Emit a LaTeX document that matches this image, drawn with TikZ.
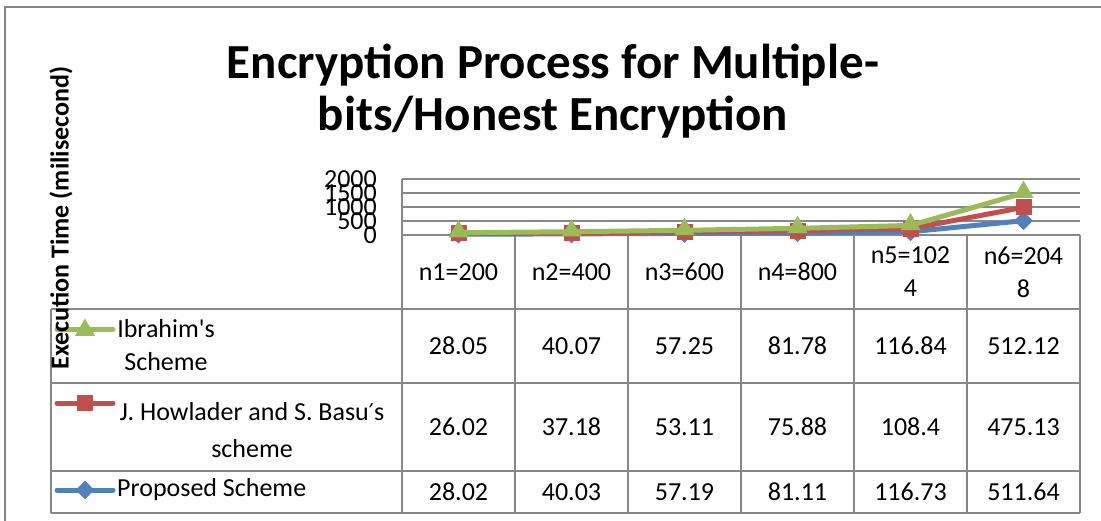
\documentclass[tikz,border=0pt]{standalone}
\usepackage{fontspec}
\setmainfont{Carlito}
\newfontfamily\primefont{DejaVu Sans}
\usepackage{tikz}
\usetikzlibrary{shapes.geometric}

\definecolor{serblue}{HTML}{4F81BD}
\definecolor{serred}{HTML}{C0504D}
\definecolor{sergreen}{HTML}{9BBB59}
\definecolor{gridgray}{HTML}{878787}

\begin{document}
\begin{tikzpicture}[x=1pt,y=-1pt,font=\fontsize{26}{33}\selectfont]
\tikzstyle{grid line}=[draw=gridgray, line width=1.5pt]
\tikzstyle{series}=[line width=5pt, line join=round, line cap=round]
\tikzstyle{tri}=[regular polygon, regular polygon sides=3, fill=sergreen, inner sep=0pt, minimum size=23pt]
\tikzstyle{sqr}=[rectangle, fill=serred, inner sep=0pt, minimum size=16pt]
\tikzstyle{dia}=[diamond, fill=serblue, inner sep=0pt, minimum size=19pt]
\tikzstyle{cell}=[inner sep=0pt, align=center]

\useasboundingbox (0,0) rectangle (1101,520);
\draw[draw=gridgray, line width=2pt] (5,530) -- (5,7) -- (1110,7);

\node[font=\fontsize{49}{52}\selectfont\bfseries, align=center] (title) at (553,91)
  {Encryption Process for Multiple-\\bits/Honest Encryption};

% table
\draw[grid line] (402,179) -- (402,513);
\foreach \k in {1,...,6} \draw[grid line] ({402+113*\k},235) -- ({402+113*\k},513);
\foreach \y in {309,383,471,513} \draw[grid line] (51,\y) -- (1080,\y);
\draw[grid line] (51,309) -- (51,513);

\foreach \h [count=\i] in {n1=200,n2=400,n3=600,n4=800,n5=102\\4,n6=204\\8}
  \node[cell] (head\i) at ({345.5+113*\i},272) {\h};
\foreach \t [count=\i] in {28.05,40.07,57.25,81.78,116.84,512.12}
  \node[cell] (ib\i) at ({345.5+113*\i},346) {\t};
\foreach \t [count=\i] in {26.02,37.18,53.11,75.88,108.4,475.13}
  \node[cell] (hb\i) at ({345.5+113*\i},427) {\t};
\foreach \t [count=\i] in {28.02,40.03,57.19,81.11,116.73,511.64}
  \node[cell] (ps\i) at ({345.5+113*\i},492) {\t};

% legend keys
\coordinate (kg1) at (57,329); \coordinate (kg2) at (113,329);
\coordinate (kr1) at (57,403); \coordinate (kr2) at (113,403);
\coordinate (kb1) at (57,490); \coordinate (kb2) at (113,490);
\draw[series, sergreen] (kg1) -- (kg2);
\node[tri] (kgm) at (85,330) {};
\draw[series, serred] (kr1) -- (kr2);
\node[sqr] (krm) at (85,403) {};
\draw[series, serblue] (kb1) -- (kb2);
\node[dia] (kbm) at (85,490) {};
\node[cell] (ibname) at (166,345) {Ibrahim\textquotesingle s\\Scheme};
\node[cell, font=\fontsize{26}{37}\selectfont] (hbname) at (252,430)
  {J. Howlader and S. Basu{\primefont\fontsize{23}{37}\selectfont ′}s\\scheme};
\node[cell, anchor=west] (psname) at (117,490) {Proposed Scheme};

% plot area, values stacked
\begin{scope}[shift={(0,235)}, y=0.028pt]
\foreach \v in {0,500,1000,1500,2000} \draw[grid line] (402,\v) -- (1080,\v);
\foreach \v in {0,500,1000,1500,2000} \node[anchor=east, inner sep=0pt] (tick\v) at (377,\v) {\v};

\foreach \v [count=\i] in {28.02,40.03,57.19,81.11,116.73,511.64}
  \coordinate (p\i) at ({345.5+113*\i},\v);
\foreach \v [count=\i] in {54.04,77.21,110.30,156.99,225.13,986.77}
  \coordinate (h\i) at ({345.5+113*\i},\v);
\foreach \v [count=\i] in {82.09,117.28,167.55,238.77,341.97,1498.89}
  \coordinate (b\i) at ({345.5+113*\i},\v);

\draw[series, serblue] (p1) -- (p2) -- (p3) -- (p4) -- (p5) -- (p6);
\foreach \i in {1,...,6} \node[dia] (pm\i) at (p\i) {};
\draw[series, serred] (h1) -- (h2) -- (h3) -- (h4) -- (h5) -- (h6);
\foreach \i in {1,...,6} \node[sqr] (hm\i) at (h\i) {};
\draw[series, sergreen] (b1) -- (b2) -- (b3) -- (b4) -- (b5) -- (b6);
\foreach \i in {1,...,6} \node[tri] (bm\i) at ([yshift=1pt]b\i) {};
\end{scope}

\node[rotate=90, font=\fontsize{26}{30}\selectfont\bfseries] (ytitle) at (61,218)
  {Execution Time (milisecond)};
\end{tikzpicture}
\end{document}
